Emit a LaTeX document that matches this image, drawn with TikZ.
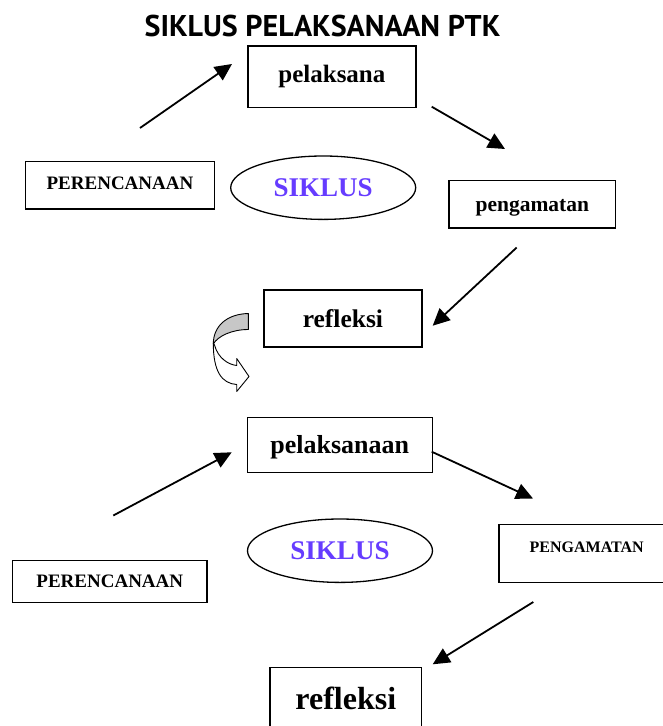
\documentclass[tikz,border=0pt]{standalone}
\usepackage{fontspec}
\setmainfont{Liberation Serif}
\newfontfamily\titlefont{PT Sans}
\usepackage{xcolor}
\usepackage{tikz}
\usetikzlibrary{arrows.meta,shapes.geometric}
\definecolor{siklusblue}{RGB}{102,60,255}

\begin{document}
\begin{tikzpicture}[
  x=1pt, y=-1pt,
  >={Triangle[length=17pt,width=16pt]},
  fs/.style={font=\bfseries\fontsize{#1}{#1}\selectfont},
  box/.style={draw, line width=1.5pt, inner sep=0pt},
  oval/.style={draw, ellipse, line width=1.3pt, inner sep=0pt, fs=27,
               text=siklusblue, minimum width=185pt, minimum height=63.4pt},
  arr/.style={->, line width=1.8pt},
  turn/.style={draw, line width=0.9pt, line join=round}
]
\clip (0,0) rectangle (663,726);

\node[font=\titlefont\bfseries\fontsize{30}{32}\selectfont] (title) at (322.5,26) {SIKLUS PELAKSANAAN PTK};

% ---------- first cycle ----------
\node[box, fs=25, minimum width=167.7pt, minimum height=61.3pt] (pel1) at (331.9,76.7) {pelaksana};
\node[box, fs=19, text depth=4pt, minimum width=188.6pt, minimum height=47.3pt] (per1) at (120,185.3) {PERENCANAAN};
\node[oval] (sik1) at (323.2,187.7) {SIKLUS};
\node[box, fs=21.5, text height=15pt, text depth=0pt, minimum width=166.7pt, minimum height=47.7pt] (pen1) at (532.3,204.2) {pengamatan};
\node[box, fs=25.5, minimum width=157.7pt, minimum height=56.7pt] (ref1) at (342.9,318.4) {refleksi};

\coordinate (a1s) at (140,128);   \coordinate (a1e) at (232,64);
\coordinate (a2s) at (431.7,106.7); \coordinate (a2e) at (505,149);
\coordinate (a3s) at (516.7,247.5); \coordinate (a3e) at (432.7,325.7);

\draw[arr] (a1s) -- (a1e);
\draw[arr] (a2s) -- (a2e);
\draw[arr] (a3s) -- (a3e);

% ---------- turn to next cycle ----------
\draw[turn, fill=white] (213.3,343) .. controls (213.3,372) and (222,383.5) .. (236.7,384.5)
  -- (236.7,391.5) -- (249,376.5) -- (236.7,358.5) -- (236.7,365.5)
  .. controls (228,364.5) and (218,358) .. (214.5,345) -- cycle;
\draw[turn, fill=black!22] (248.3,313.5) .. controls (227,314) and (213.3,326) .. (213.3,344)
  .. controls (218,336) and (232,329.5) .. (248.3,329.5) -- cycle;

% ---------- second cycle ----------
\node[box, fs=26, text depth=1pt, minimum width=185pt, minimum height=55.4pt] (pel2) at (339.8,445) {pelaksanaan};
\node[oval] (sik2) at (340,550.7) {SIKLUS};
\node[box, fs=16, text depth=12pt, minimum width=175.4pt, minimum height=58pt] (pen2) at (586.7,553.3) {PENGAMATAN};
\node[box, fs=19, minimum width=194.3pt, minimum height=42.4pt] (per2) at (109.8,581.5) {PERENCANAAN};
\node[box, fs=32, minimum width=151.7pt, minimum height=62.2pt] (ref2) at (345.85,698.4) {refleksi};

\coordinate (a4s) at (113.3,515.5); \coordinate (a4e) at (231.7,452.3);
\coordinate (a5s) at (431.7,451.7); \coordinate (a5e) at (533,498.5);
\coordinate (a6s) at (533.3,602);   \coordinate (a6e) at (432.7,664.3);

\draw[arr] (a4s) -- (a4e);
\draw[arr] (a5s) -- (a5e);
\draw[arr] (a6s) -- (a6e);

\end{tikzpicture}
\end{document}
